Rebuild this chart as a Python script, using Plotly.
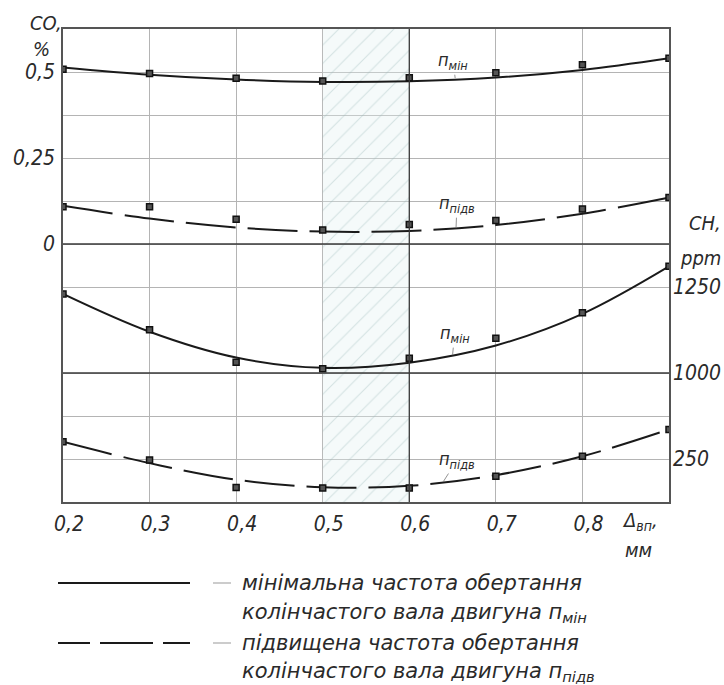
import plotly.graph_objects as go

# ---------------- data ----------------
gap_mm = [0.2, 0.3, 0.4, 0.5, 0.6, 0.7, 0.8, 0.9]          # Δвп, мм
x_tick_vals = [0.2, 0.3, 0.4, 0.5, 0.6, 0.7, 0.8]
x_tick_text = ["0,2", "0,3", "0,4", "0,5", "0,6", "0,7", "0,8"]

# CO, % (upper part)
co_min_pts = [0.508, 0.496, 0.482, 0.474, 0.483, 0.498, 0.521, 0.540]
co_min_fit = [0.513, 0.492, 0.478, 0.471, 0.473, 0.484, 0.506, 0.540]
co_pidv_pts = [0.108, 0.108, 0.072, 0.041, 0.057, 0.068, 0.102, 0.135]
co_pidv_fit = [0.111, 0.074, 0.048, 0.036, 0.038, 0.055, 0.088, 0.135]

# CH, ppm (lower part, broken scale)
ch_min_pts = [1230, 1126, 1031, 1012, 1043, 1101, 1175, 1310]
ch_min_fit = [1230, 1120, 1045, 1015, 1030, 1080, 1172, 1310]
ch_pidv_pts = [300, 247, 167, 166, 166, 200, 258, 336]
ch_pidv_fit = [300, 238, 190, 168, 172, 203, 258, 336]

optimal_gap = [0.5, 0.6]        # hatched zone

grid_vals = [-0.625, -0.5, -0.375, -0.125, 0, 0.125, 0.25, 0.375, 0.5]
co_tick_vals = [0, 0.25, 0.5]
co_tick_text = ["0", "0,25", "0,5"]
co_range = [-0.75, 0.625]
ch_up_range = [625, 2000]
ch_up_ticks = [1000, 1250]
ch_up_text = ["1000", "1250"]
ch_lo_range = [125, 1500]
ch_lo_ticks = [250]
ch_lo_text = ["250"]

# ---------------- style ----------------
W, H = 724, 685
L, R, T, B = 63, 55, 29, 183
PW, PH = W - L - R, H - T - B
FONT = "DejaVu Sans Condensed, Liberation Sans Narrow, DejaVu Sans, sans-serif"
LEGFONT = "DejaVu Sans, sans-serif"
INK = "#1a1a1a"
TXT = "#2a2a2a"
GRID = "#b4b4b4"
DARK = "#3a3a3a"
DASH = "50px,12px"


def px_x(px):
    return (px - L) / PW


def px_y(py):
    return (H - B - py) / PH


fig = go.Figure()

# hatched optimal zone
fig.add_trace(go.Scatter(
    x=[optimal_gap[0], optimal_gap[1], optimal_gap[1], optimal_gap[0], optimal_gap[0]],
    y=[co_range[0], co_range[0], co_range[1], co_range[1], co_range[0]],
    mode="lines", line=dict(width=0), fill="toself",
    fillcolor="rgba(225,240,240,0.35)",
    fillpattern=dict(shape="/", fgcolor="rgba(150,185,185,0.75)",
                     bgcolor="rgba(225,240,240,0.35)", size=13, solidity=0.08),
    hoverinfo="skip", showlegend=False, yaxis="y"))

marker = dict(symbol="square", size=6, color="#555", line=dict(color="#111", width=1.5))


def add_series(pts, fit, yaxis, dashed):
    fig.add_trace(go.Scatter(
        x=gap_mm, y=fit, mode="lines", yaxis=yaxis, showlegend=False,
        line=dict(color=INK, width=2, shape="spline", smoothing=1.0,
                  dash=DASH if dashed else "solid")))
    fig.add_trace(go.Scatter(
        x=gap_mm, y=pts, mode="markers", yaxis=yaxis, showlegend=False,
        marker=marker))


add_series(co_min_pts, co_min_fit, "y", False)
add_series(co_pidv_pts, co_pidv_fit, "y", True)
add_series(ch_min_pts, ch_min_fit, "y2", False)
add_series(ch_pidv_pts, ch_pidv_fit, "y3", True)

tickfont = dict(family=FONT, size=21, color=TXT, style="italic")

fig.update_layout(
    width=W, height=H, margin=dict(l=L, r=R, t=T, b=B, pad=0),
    paper_bgcolor="white", plot_bgcolor="white",
    font=dict(family=FONT, style="italic", color=TXT),
    xaxis=dict(range=[0.2, 0.9], tickvals=x_tick_vals, ticktext=x_tick_text,
               showgrid=True, gridcolor=GRID, gridwidth=1, zeroline=False,
               showline=True, mirror=True, linecolor="#555", linewidth=1.5,
               ticks="", tickfont=tickfont, ticklabelstandoff=2,
               ticklabelshift=6, automargin=False, fixedrange=True),
    yaxis=dict(range=co_range, tickvals=grid_vals, showticklabels=False,
               showgrid=True, gridcolor=GRID, gridwidth=1, zeroline=False,
               showline=True, mirror=True, linecolor="#555", linewidth=1.5,
               ticks="", automargin=False, fixedrange=True),
    yaxis2=dict(range=ch_up_range, tickvals=ch_up_ticks, ticktext=ch_up_text,
                overlaying="y", side="right", showgrid=False, zeroline=False,
                showline=False, ticks="", tickfont=tickfont,
                ticklabelstandoff=3, automargin=False, fixedrange=True),
    yaxis3=dict(range=ch_lo_range, tickvals=ch_lo_ticks, ticktext=ch_lo_text,
                overlaying="y", side="right", showgrid=False, zeroline=False,
                showline=False, ticks="", tickfont=tickfont,
                ticklabelstandoff=3, automargin=False, fixedrange=True),
    yaxis4=dict(range=co_range, tickvals=co_tick_vals, ticktext=co_tick_text,
                overlaying="y", side="left", showgrid=False, zeroline=False,
                showline=False, ticks="", tickfont=tickfont,
                ticklabelstandoff=7, automargin=False, fixedrange=True),
)
# invisible carrier so yaxis4 (CO tick labels) is rendered
fig.add_trace(go.Scatter(x=[gap_mm[0]], y=[co_tick_vals[0]], yaxis="y4",
                         mode="markers", marker=dict(opacity=0),
                         hoverinfo="skip", showlegend=False))

# darker reference lines
fig.add_shape(type="line", xref="x domain", x0=0, x1=1, yref="y", y0=0, y1=0,
              line=dict(color=DARK, width=1.3))
fig.add_shape(type="line", xref="x domain", x0=0, x1=1, yref="y2", y0=1000, y1=1000,
              line=dict(color=DARK, width=1.3))
fig.add_shape(type="line", xref="x", x0=optimal_gap[1], x1=optimal_gap[1],
              yref="y domain", y0=0, y1=1, line=dict(color=DARK, width=1.3))

# curve labels with leader lines
lab_font = dict(family=FONT, size=18, color=TXT, style="italic")
labels = [
    ("п<sub>мін</sub>", 0.653, 0.482, "y", -2, -17),
    ("п<sub>підв</sub>", 0.654, 0.046, "y", 1, -24),
    ("п<sub>мін</sub>", 0.650, 1052, "y2", 2, -21),
    ("п<sub>підв</sub>", 0.639, 183, "y3", 14, -22),
]
for txt, xx, yy, yr, ax, ay in labels:
    fig.add_annotation(x=xx, y=yy, xref="x", yref=yr, text=txt, showarrow=True,
                       arrowhead=0, arrowwidth=0.8, arrowcolor="#777",
                       ax=ax, ay=ay, font=lab_font)

# axis titles
title_font = dict(family=FONT, size=20, color=TXT, style="italic")
for txt, px, py, anchor in [("CO,", 28, 23, "left"), ("%", 31, 49, "left"),
                            ("CH,", 687, 223, "left"), ("ppm", 723, 258, "right"),
                            ("Δ<sub>вп</sub>,", 620, 521, "left"), ("мм", 623, 550, "left")]:
    fig.add_annotation(x=px_x(px), y=px_y(py), xref="paper", yref="paper",
                       text=txt, showarrow=False, xanchor=anchor, yanchor="middle",
                       font=title_font)

# legend drawn below the chart
leg_font = dict(family=LEGFONT, size=21, color=TXT, style="italic")
fig.add_shape(type="line", xref="paper", yref="paper", x0=px_x(58), x1=px_x(190),
              y0=px_y(583), y1=px_y(583), line=dict(color=INK, width=2))
fig.add_shape(type="line", xref="paper", yref="paper", x0=px_x(58), x1=px_x(190),
              y0=px_y(643), y1=px_y(643),
              line=dict(color=INK, width=2, dash="32px,10px,53px,10px,60px"))
for py in (583, 643):
    fig.add_shape(type="line", xref="paper", yref="paper", x0=px_x(213), x1=px_x(231),
                  y0=px_y(py), y1=px_y(py), line=dict(color="#999", width=1))
for txt, py in [("мінімальна частота обертання", 583),
                ("колінчастого вала двигуна п<sub>мін</sub>", 613),
                ("підвищена частота обертання", 643),
                ("колінчастого вала двигуна п<sub>підв</sub>", 672)]:
    fig.add_annotation(x=px_x(240), y=px_y(py), xref="paper", yref="paper",
                       text=txt, showarrow=False, xanchor="left", yanchor="middle",
                       font=leg_font)

fig.write_html("out.html")
